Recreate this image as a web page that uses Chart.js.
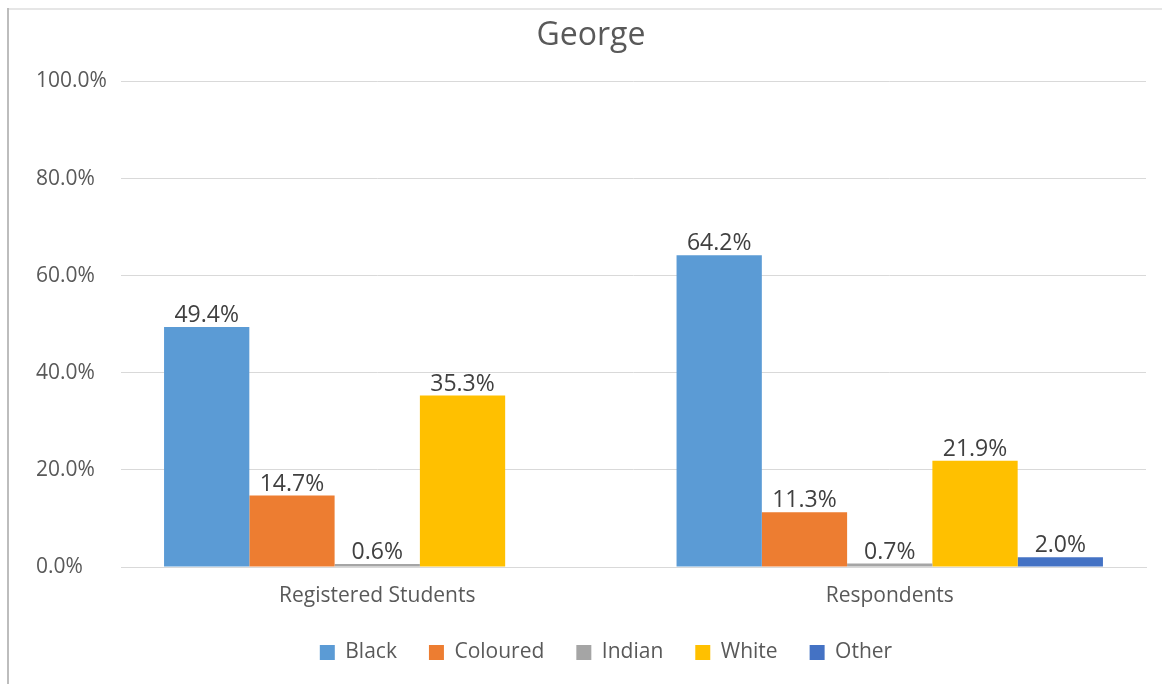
<!DOCTYPE html>
<html>
<head>
<meta charset="utf-8">
<title>George</title>
<script src="https://cdn.jsdelivr.net/npm/chart.js@4/dist/chart.umd.min.js"></script>
<style>
  html, body { margin: 0; padding: 0; background: #fff; }
  #wrap { position: absolute; left: 0; top: 0; width: 1162px; height: 684px; }
</style>
</head>
<body>
<div id="wrap"><canvas id="chart" width="1162" height="684"></canvas></div>
<script>
// Population group shares for the George campus
const groups = ['Registered Students', 'Respondents'];
const seriesNames = ['Black', 'Coloured', 'Indian', 'White', 'Other'];
const black = [49.4, 64.2];
const coloured = [14.7, 11.3];
const indian = [0.6, 0.7];
const white = [35.3, 21.9];
const other = [null, 2.0];
const yTicks = [0, 20, 40, 60, 80, 100];

const colors = ['#5B9BD5', '#ED7D31', '#A5A5A5', '#FFC000', '#4472C4'];
const values = [black, coloured, indian, white, other];
const font = '"Open Sans", Lato, sans-serif';

// frame lines around the chart box
const frame = {
  id: 'frame',
  afterLayout(chart) {
    // centre the legend under the whole box rather than the padded area
    chart.legend.left += 15;
    chart.legend.right += 15;
  },
  beforeDraw(chart) {
    const c = chart.ctx;
    c.save();
    c.fillStyle = '#fff';
    c.fillRect(0, 0, chart.width, chart.height);
    c.strokeStyle = '#e6e6e6';
    c.lineWidth = 2;
    c.beginPath();
    c.moveTo(8, 9);
    c.lineTo(chart.width, 9);
    c.stroke();
    c.strokeStyle = '#bdbdbd';
    c.beginPath();
    c.moveTo(8, 8);
    c.lineTo(8, chart.height);
    c.stroke();
    c.restore();
  }
};

// value labels on top of each bar
const barLabels = {
  id: 'barLabels',
  afterDatasetsDraw(chart) {
    const c = chart.ctx;
    c.save();
    c.font = '23px ' + font;
    c.fillStyle = '#404040';
    c.textAlign = 'center';
    c.textBaseline = 'alphabetic';
    chart.data.datasets.forEach((ds, i) => {
      chart.getDatasetMeta(i).data.forEach((bar, j) => {
        const v = ds.data[j];
        if (v === null || v === undefined) return;
        c.fillText(v.toFixed(1) + '%', bar.x, bar.y - 5);
      });
    });
    c.restore();
  }
};

new Chart(document.getElementById('chart'), {
  type: 'bar',
  data: {
    labels: groups,
    datasets: seriesNames.map((name, i) => ({
      label: name,
      data: values[i],
      backgroundColor: colors[i],
      borderWidth: 0,
      categoryPercentage: 0.832,
      barPercentage: 1
    }))
  },
  options: {
    responsive: false,
    animation: false,
    layout: { padding: { left: 36, right: 16, top: 0, bottom: 11 } },
    plugins: {
      title: {
        display: true,
        text: 'George',
        color: '#595959',
        font: { family: font, size: 32, weight: 'normal' },
        padding: { top: 17, bottom: 26 }
      },
      legend: {
        position: 'bottom',
        labels: {
          color: '#595959',
          font: { family: font, size: 21 },
          boxWidth: 15,
          boxHeight: 15,
          padding: 32
        }
      },
      tooltip: { enabled: false }
    },
    scales: {
      x: {
        afterFit(scale) { scale.height = 43; },
        grid: { display: false, drawTicks: false },
        border: { color: '#d9d9d9', width: 1 },
        ticks: { color: '#595959', font: { family: font, size: 21 }, padding: 16 }
      },
      y: {
        min: 0,
        max: 100,
        afterBuildTicks(scale) {
          scale.ticks = yTicks.map(v => ({ value: v }));
        },
        afterFit(scale) { scale.width = 85; },
        grid: { color: '#d9d9d9', drawTicks: false },
        border: { display: false },
        ticks: {
          color: '#595959',
          font: { family: font, size: 21 },
          crossAlign: 'far',
          padding: 10,
          callback: v => v.toFixed(1) + '%'
        }
      }
    }
  },
  plugins: [frame, barLabels]
});
</script>
</body>
</html>
